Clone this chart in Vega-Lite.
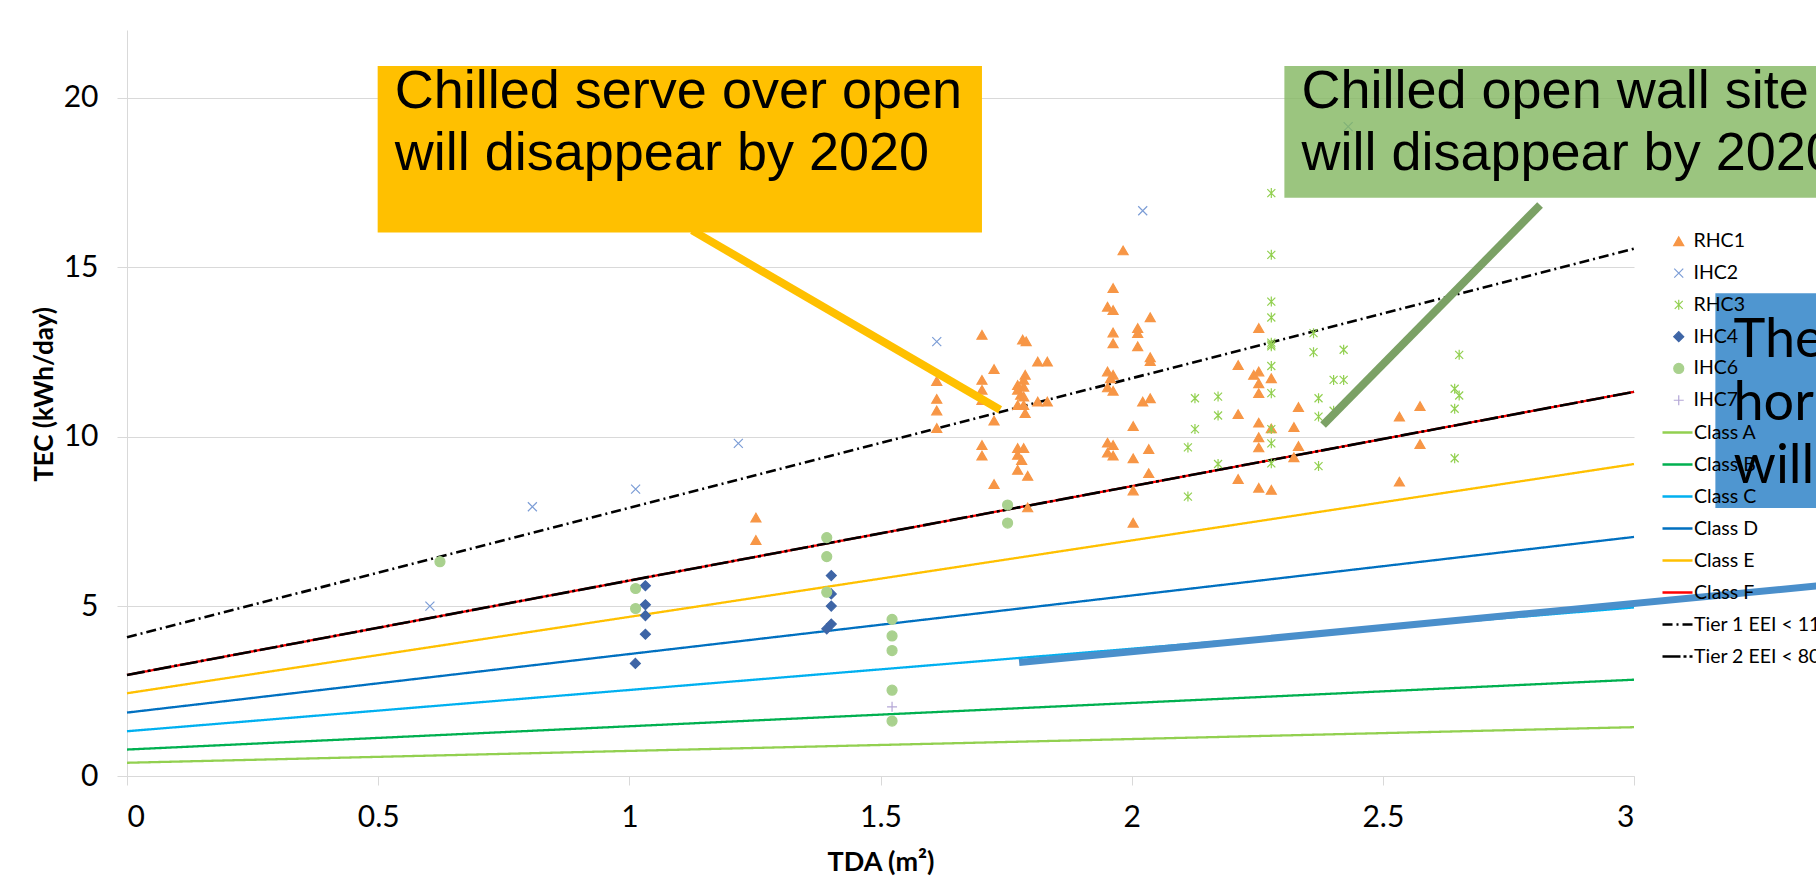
{
  "$schema": "https://vega.github.io/schema/vega-lite/v6.json",
  "width": 1507,
  "height": 746,
  "autosize": {"type": "none"},
  "padding": {"left": 127, "top": 30, "right": 182, "bottom": 113},
  "background": "white",
  "config": {
    "view": {"stroke": null},
    "font": "Lato",
    "axis": {
      "labelFont": "Lato", "labelFontSize": 30, "labelColor": "#000000",
      "titleFont": "Lato", "titleFontSize": 26, "titleFontWeight": "bold", "titleColor": "#000000",
      "domainColor": "#D9D9D9", "tickColor": "#D9D9D9", "gridColor": "#D9D9D9",
      "domainWidth": 1, "tickWidth": 1, "gridWidth": 1
    },
    "legend": {"labelFont": "Lato", "labelColor": "#000000"}
  },
  "datasets": {
    "pts": [
      {"series": "RHC1", "x": 1.252, "y": 7.62}, {"series": "RHC1", "x": 1.252, "y": 6.96},
      {"series": "RHC1", "x": 1.612, "y": 11.65}, {"series": "RHC1", "x": 1.612, "y": 11.12}, {"series": "RHC1", "x": 1.612, "y": 10.78}, {"series": "RHC1", "x": 1.612, "y": 10.26},
      {"series": "RHC1", "x": 1.702, "y": 13.01}, {"series": "RHC1", "x": 1.702, "y": 11.68}, {"series": "RHC1", "x": 1.702, "y": 11.39}, {"series": "RHC1", "x": 1.702, "y": 11.09},
      {"series": "RHC1", "x": 1.726, "y": 12.0}, {"series": "RHC1", "x": 1.726, "y": 10.48}, {"series": "RHC1", "x": 1.702, "y": 9.76}, {"series": "RHC1", "x": 1.702, "y": 9.45}, {"series": "RHC1", "x": 1.726, "y": 8.61},
      {"series": "RHC1", "x": 1.793, "y": 7.92},
      {"series": "RHC1", "x": 1.783, "y": 12.87}, {"series": "RHC1", "x": 1.79, "y": 12.82},
      {"series": "RHC1", "x": 1.788, "y": 11.83}, {"series": "RHC1", "x": 1.785, "y": 11.68}, {"series": "RHC1", "x": 1.773, "y": 11.53}, {"series": "RHC1", "x": 1.785, "y": 11.48},
      {"series": "RHC1", "x": 1.773, "y": 11.39}, {"series": "RHC1", "x": 1.779, "y": 11.24}, {"series": "RHC1", "x": 1.785, "y": 11.19}, {"series": "RHC1", "x": 1.773, "y": 10.94},
      {"series": "RHC1", "x": 1.785, "y": 10.94}, {"series": "RHC1", "x": 1.788, "y": 10.7},
      {"series": "RHC1", "x": 1.813, "y": 12.22}, {"series": "RHC1", "x": 1.832, "y": 12.22}, {"series": "RHC1", "x": 1.813, "y": 11.04}, {"series": "RHC1", "x": 1.832, "y": 11.04},
      {"series": "RHC1", "x": 1.773, "y": 9.67}, {"series": "RHC1", "x": 1.785, "y": 9.67}, {"series": "RHC1", "x": 1.773, "y": 9.47}, {"series": "RHC1", "x": 1.781, "y": 9.32},
      {"series": "RHC1", "x": 1.773, "y": 9.03}, {"series": "RHC1", "x": 1.793, "y": 8.85},
      {"series": "RHC1", "x": 1.963, "y": 14.39}, {"series": "RHC1", "x": 1.952, "y": 13.84}, {"series": "RHC1", "x": 1.963, "y": 13.74}, {"series": "RHC1", "x": 1.963, "y": 13.08},
      {"series": "RHC1", "x": 1.963, "y": 12.76}, {"series": "RHC1", "x": 1.952, "y": 11.93}, {"series": "RHC1", "x": 1.963, "y": 11.83}, {"series": "RHC1", "x": 1.958, "y": 11.73},
      {"series": "RHC1", "x": 1.952, "y": 11.46}, {"series": "RHC1", "x": 1.963, "y": 11.36}, {"series": "RHC1", "x": 1.952, "y": 9.83}, {"series": "RHC1", "x": 1.963, "y": 9.76},
      {"series": "RHC1", "x": 1.952, "y": 9.54}, {"series": "RHC1", "x": 1.963, "y": 9.45},
      {"series": "RHC1", "x": 1.983, "y": 15.5},
      {"series": "RHC1", "x": 2.012, "y": 13.21}, {"series": "RHC1", "x": 2.012, "y": 13.06}, {"series": "RHC1", "x": 2.012, "y": 12.67}, {"series": "RHC1", "x": 2.037, "y": 13.53},
      {"series": "RHC1", "x": 2.037, "y": 12.35}, {"series": "RHC1", "x": 2.037, "y": 12.24}, {"series": "RHC1", "x": 2.022, "y": 11.04}, {"series": "RHC1", "x": 2.037, "y": 11.14},
      {"series": "RHC1", "x": 2.003, "y": 10.32}, {"series": "RHC1", "x": 2.003, "y": 9.37}, {"series": "RHC1", "x": 2.034, "y": 9.64}, {"series": "RHC1", "x": 2.034, "y": 8.93},
      {"series": "RHC1", "x": 2.003, "y": 8.42}, {"series": "RHC1", "x": 2.003, "y": 7.47},
      {"series": "RHC1", "x": 2.212, "y": 12.12}, {"series": "RHC1", "x": 2.212, "y": 10.67}, {"series": "RHC1", "x": 2.212, "y": 8.76}, {"series": "RHC1", "x": 2.253, "y": 13.21},
      {"series": "RHC1", "x": 2.243, "y": 11.83}, {"series": "RHC1", "x": 2.253, "y": 11.93}, {"series": "RHC1", "x": 2.253, "y": 11.58}, {"series": "RHC1", "x": 2.253, "y": 11.29},
      {"series": "RHC1", "x": 2.253, "y": 10.42}, {"series": "RHC1", "x": 2.253, "y": 9.99}, {"series": "RHC1", "x": 2.253, "y": 9.69}, {"series": "RHC1", "x": 2.253, "y": 8.5},
      {"series": "RHC1", "x": 2.278, "y": 11.73}, {"series": "RHC1", "x": 2.278, "y": 10.25}, {"series": "RHC1", "x": 2.278, "y": 8.44},
      {"series": "RHC1", "x": 2.332, "y": 10.88}, {"series": "RHC1", "x": 2.323, "y": 10.29}, {"series": "RHC1", "x": 2.332, "y": 9.73}, {"series": "RHC1", "x": 2.323, "y": 9.4},
      {"series": "RHC1", "x": 2.533, "y": 10.6}, {"series": "RHC1", "x": 2.574, "y": 10.91}, {"series": "RHC1", "x": 2.574, "y": 9.79}, {"series": "RHC1", "x": 2.533, "y": 8.68},
      {"series": "IHC2", "x": 0.603, "y": 5.01}, {"series": "IHC2", "x": 0.807, "y": 7.94}, {"series": "IHC2", "x": 1.0125, "y": 8.46}, {"series": "IHC2", "x": 1.217, "y": 9.81},
      {"series": "IHC2", "x": 1.612, "y": 12.81}, {"series": "IHC2", "x": 2.022, "y": 16.67}, {"series": "IHC2", "x": 2.431, "y": 19.15},
      {"series": "RHC3", "x": 2.126, "y": 11.14}, {"series": "RHC3", "x": 2.126, "y": 10.23}, {"series": "RHC3", "x": 2.112, "y": 9.69}, {"series": "RHC3", "x": 2.112, "y": 8.24},
      {"series": "RHC3", "x": 2.172, "y": 11.19}, {"series": "RHC3", "x": 2.172, "y": 10.63}, {"series": "RHC3", "x": 2.172, "y": 9.2},
      {"series": "RHC3", "x": 2.278, "y": 17.19}, {"series": "RHC3", "x": 2.278, "y": 15.37}, {"series": "RHC3", "x": 2.278, "y": 13.99}, {"series": "RHC3", "x": 2.278, "y": 13.52},
      {"series": "RHC3", "x": 2.278, "y": 12.78}, {"series": "RHC3", "x": 2.278, "y": 12.72}, {"series": "RHC3", "x": 2.278, "y": 12.67}, {"series": "RHC3", "x": 2.278, "y": 12.09},
      {"series": "RHC3", "x": 2.278, "y": 11.29}, {"series": "RHC3", "x": 2.278, "y": 10.23}, {"series": "RHC3", "x": 2.278, "y": 9.81}, {"series": "RHC3", "x": 2.278, "y": 9.22},
      {"series": "RHC3", "x": 2.362, "y": 13.06}, {"series": "RHC3", "x": 2.362, "y": 12.5}, {"series": "RHC3", "x": 2.422, "y": 12.57}, {"series": "RHC3", "x": 2.402, "y": 11.68},
      {"series": "RHC3", "x": 2.422, "y": 11.68}, {"series": "RHC3", "x": 2.372, "y": 11.14}, {"series": "RHC3", "x": 2.372, "y": 10.6}, {"series": "RHC3", "x": 2.402, "y": 10.77},
      {"series": "RHC3", "x": 2.372, "y": 9.14},
      {"series": "RHC3", "x": 2.652, "y": 12.42}, {"series": "RHC3", "x": 2.643, "y": 11.42}, {"series": "RHC3", "x": 2.652, "y": 11.22}, {"series": "RHC3", "x": 2.643, "y": 10.83},
      {"series": "RHC3", "x": 2.643, "y": 9.37},
      {"series": "IHC4", "x": 1.032, "y": 5.61}, {"series": "IHC4", "x": 1.032, "y": 5.05}, {"series": "IHC4", "x": 1.032, "y": 4.73}, {"series": "IHC4", "x": 1.032, "y": 4.18},
      {"series": "IHC4", "x": 1.012, "y": 3.32}, {"series": "IHC4", "x": 1.402, "y": 5.91}, {"series": "IHC4", "x": 1.402, "y": 5.37}, {"series": "IHC4", "x": 1.402, "y": 5.01},
      {"series": "IHC4", "x": 1.402, "y": 4.48}, {"series": "IHC4", "x": 1.393, "y": 4.34},
      {"series": "IHC6", "x": 0.623, "y": 6.32}, {"series": "IHC6", "x": 1.0125, "y": 5.53}, {"series": "IHC6", "x": 1.0125, "y": 4.94}, {"series": "IHC6", "x": 1.393, "y": 7.03},
      {"series": "IHC6", "x": 1.393, "y": 6.47}, {"series": "IHC6", "x": 1.393, "y": 5.42}, {"series": "IHC6", "x": 1.523, "y": 4.62}, {"series": "IHC6", "x": 1.523, "y": 4.13},
      {"series": "IHC6", "x": 1.523, "y": 3.7}, {"series": "IHC6", "x": 1.523, "y": 2.53}, {"series": "IHC6", "x": 1.523, "y": 1.62}, {"series": "IHC6", "x": 1.753, "y": 7.99},
      {"series": "IHC6", "x": 1.753, "y": 7.46},
      {"series": "IHC7", "x": 1.523, "y": 2.04}
    ],
    "classes": [
      {"c": "Class A", "x": 0, "y": 0.39}, {"c": "Class A", "x": 3, "y": 1.44},
      {"c": "Class B", "x": 0, "y": 0.78}, {"c": "Class B", "x": 3, "y": 2.84},
      {"c": "Class C", "x": 0, "y": 1.32}, {"c": "Class C", "x": 3, "y": 4.97},
      {"c": "Class D", "x": 0, "y": 1.87}, {"c": "Class D", "x": 3, "y": 7.05},
      {"c": "Class E", "x": 0, "y": 2.44}, {"c": "Class E", "x": 3, "y": 9.2},
      {"c": "Class F", "x": 0, "y": 2.98}, {"c": "Class F", "x": 3, "y": 11.33}
    ],
    "tiers": [
      {"c": "Tier 1 EEI < 110", "x": 0, "y": 4.09}, {"c": "Tier 1 EEI < 110", "x": 3, "y": 15.55},
      {"c": "Tier 2 EEI < 80", "x": 0, "y": 2.98}, {"c": "Tier 2 EEI < 80", "x": 3, "y": 11.33}
    ]
  },
  "encoding": {
    "x": {
      "field": "x", "type": "quantitative",
      "scale": {"domain": [0, 3], "nice": false, "zero": false},
      "axis": {
        "title": "TDA (m²)", "values": [0, 0.5, 1, 1.5, 2, 2.5, 3], "format": "~g",
        "grid": false, "tickSize": 9, "labelPadding": 17,
        "titleFontSize": 27, "titleY": 86, "titleBaseline": "middle"
      }
    },
    "y": {
      "field": "y", "type": "quantitative",
      "scale": {"domain": [0, 22], "nice": false, "zero": false},
      "axis": {
        "title": "TEC (kWh/day)", "values": [0, 5, 10, 15, 20], "grid": true,
        "tickSize": 10, "labelPadding": 19,
        "titleX": -83, "titleY": 364, "titleAngle": -90, "titleBaseline": "middle", "titleAlign": "center"
      }
    }
  },
  "layer": [
    {
      "data": {"name": "classes"},
      "mark": {"type": "line", "strokeWidth": 2.3},
      "encoding": {
        "color": {
          "field": "c", "type": "nominal",
          "scale": {
            "domain": ["Class A", "Class B", "Class C", "Class D", "Class E", "Class F", "Tier 1 EEI < 110", "Tier 2 EEI < 80"],
            "range": ["#92D050", "#00B050", "#00B0F0", "#0070C0", "#FFC000", "#FF0000", "#000000", "#000000"]
          },
          "legend": {"title": null, "orient": "none", "legendX": 1534, "legendY": 386, "padding": 0, "labelFontSize": 19.5, "rowPadding": 6, "labelOffset": 0, "symbolType": "stroke", "symbolSize": 900, "symbolStrokeWidth": 2.5}
        },
        "strokeDash": {
          "field": "c", "type": "nominal",
          "scale": {
            "domain": ["Class A", "Class B", "Class C", "Class D", "Class E", "Class F", "Tier 1 EEI < 110", "Tier 2 EEI < 80"],
            "range": [[1, 0], [1, 0], [1, 0], [1, 0], [1, 0], [1, 0], [10, 4, 2, 4], [18, 3, 3, 3]]
          },
          "legend": {"title": null, "orient": "none", "legendX": 1534, "legendY": 386, "padding": 0, "labelFontSize": 19.5, "rowPadding": 6, "labelOffset": 0, "symbolType": "stroke", "symbolSize": 900, "symbolStrokeWidth": 2.5}
        }
      }
    },
    {
      "data": {"name": "tiers"},
      "mark": {"type": "line", "strokeWidth": 2.6},
      "encoding": {
        "color": {"field": "c", "type": "nominal"},
        "strokeDash": {"field": "c", "type": "nominal"}
      }
    },
    {
      "data": {"name": "pts"},
      "mark": {"type": "point", "filled": true, "size": 100, "strokeWidth": 1.2, "opacity": 1},
      "encoding": {
        "fill": {
          "field": "series", "type": "nominal",
          "scale": {"domain": ["RHC1", "IHC2", "RHC3", "IHC4", "IHC6", "IHC7"], "range": ["#F79646", "#7C9DD6", "#92D050", "#3E65A6", "#A9D18E", "#B4A7D6"]},
          "legend": {"title": null, "orient": "none", "legendX": 1542, "legendY": 201.5, "padding": 0, "labelFontSize": 19.5, "rowPadding": 10.8, "labelOffset": 5, "symbolSize": 100, "symbolStrokeWidth": 1.2}
        },
        "stroke": {
          "field": "series", "type": "nominal",
          "scale": {"domain": ["RHC1", "IHC2", "RHC3", "IHC4", "IHC6", "IHC7"], "range": ["#F79646", "#7C9DD6", "#92D050", "#3E65A6", "#A9D18E", "#B4A7D6"]},
          "legend": {"title": null, "orient": "none", "legendX": 1542, "legendY": 201.5, "padding": 0, "labelFontSize": 19.5, "rowPadding": 10.8, "labelOffset": 5, "symbolSize": 100, "symbolStrokeWidth": 1.2}
        },
        "shape": {
          "field": "series", "type": "nominal",
          "scale": {"domain": ["RHC1", "IHC2", "RHC3", "IHC4", "IHC6", "IHC7"], "range": ["triangle-up", "M-0.9,-0.9L0.9,0.9M-0.9,0.9L0.9,-0.9", "M-0.8,-0.8L0.8,0.8M-0.8,0.8L0.8,-0.8M0,-1L0,1", "diamond", "circle", "M-1,0L1,0M0,-1L0,1"]},
          "legend": {"title": null, "orient": "none", "legendX": 1542, "legendY": 201.5, "padding": 0, "labelFontSize": 19.5, "rowPadding": 10.8, "labelOffset": 5, "symbolSize": 100, "symbolStrokeWidth": 1.2}
        }
      }
    },
    {
      "data": {"values": [{"x": 1.125, "y": 16.09, "x2": 1.738, "y2": 10.8}]},
      "mark": {"type": "rule", "color": "#FFC000", "strokeWidth": 8},
      "encoding": {"x2": {"field": "x2"}, "y2": {"field": "y2"}}
    },
    {
      "data": {"values": [{"x": 0.499, "x2": 1.702, "y": 16.03, "y2": 20.94}]},
      "mark": {"type": "rect", "color": "#FFC000"},
      "encoding": {"x2": {"field": "x2"}, "y2": {"field": "y2"}}
    },
    {
      "data": {"values": [{"x": 0.533, "y": 19.7, "t": "Chilled serve over open"}, {"x": 0.533, "y": 17.88, "t": "will disappear by 2020"}]},
      "mark": {"type": "text", "align": "left", "baseline": "alphabetic", "font": "Liberation Sans", "fontSize": 54, "color": "#000000"},
      "encoding": {"text": {"field": "t"}}
    },
    {
      "data": {"values": [{"x": 2.813, "y": 16.84, "x2": 2.381, "y2": 10.35}]},
      "mark": {"type": "rule", "color": "#7BA165", "strokeWidth": 8},
      "encoding": {"x2": {"field": "x2"}, "y2": {"field": "y2"}}
    },
    {
      "data": {"values": [{"x": 2.304, "x2": 3.7, "y": 17.05, "y2": 20.94}]},
      "mark": {"type": "rect", "color": "#82B75F", "opacity": 0.8},
      "encoding": {"x2": {"field": "x2"}, "y2": {"field": "y2"}}
    },
    {
      "data": {"values": [{"x": 2.338, "y": 19.7, "t": "Chilled open wall site"}, {"x": 2.338, "y": 17.88, "t": "will disappear by 2020"}]},
      "mark": {"type": "text", "align": "left", "baseline": "alphabetic", "font": "Liberation Sans", "fontSize": 54, "color": "#000000"},
      "encoding": {"text": {"field": "t"}}
    },
    {
      "data": {"values": [{"x": 1.776, "y": 3.35, "x2": 3.7, "y2": 6.08}]},
      "mark": {"type": "rule", "color": "#4A8FCB", "strokeWidth": 7},
      "encoding": {"x2": {"field": "x2"}, "y2": {"field": "y2"}}
    },
    {
      "data": {"values": [{"x": 3.162, "x2": 3.7, "y": 7.9, "y2": 14.24}]},
      "mark": {"type": "rect", "color": "#4F96D0"},
      "encoding": {"x2": {"field": "x2"}, "y2": {"field": "y2"}}
    },
    {
      "data": {"values": [{"x": 3.198, "y": 12.37, "t": "These"}, {"x": 3.198, "y": 10.5, "t": "horizontal"}, {"x": 3.198, "y": 8.63, "t": "will"}]},
      "mark": {"type": "text", "align": "left", "baseline": "alphabetic", "font": "Lato", "fontSize": 54, "color": "#000000"},
      "encoding": {"text": {"field": "t"}}
    }
  ]
}
